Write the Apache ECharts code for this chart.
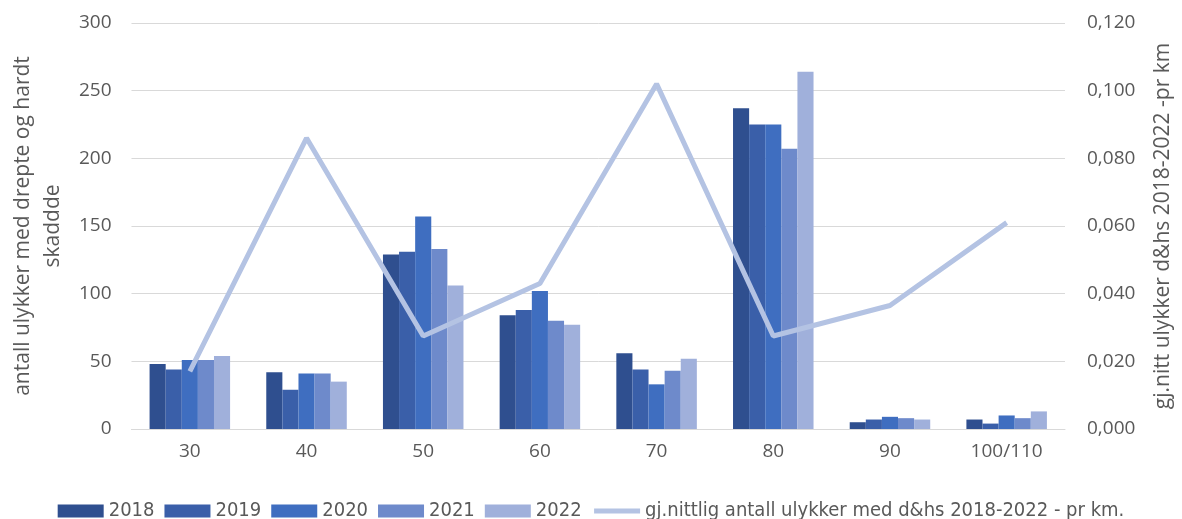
<!DOCTYPE html>
<html>
<head>
<meta charset="utf-8">
<script src="https://cdn.jsdelivr.net/npm/echarts@6/dist/echarts.min.js"></script>
<style>html,body{margin:0;padding:0;background:#fff;}#c{width:1182px;height:519px;}</style>
</head>
<body>
<div id="c"></div>
<script>
const categories = ['30','40','50','60','70','80','90','100/110'];
const y2018 = [48, 42, 129, 84, 56, 237, 5, 7];
const y2019 = [44, 29, 131, 88, 44, 225, 7, 4];
const y2020 = [51, 41, 157, 102, 33, 225, 9, 10];
const y2021 = [51, 41, 133, 80, 43, 207, 8, 8];
const y2022 = [54, 35, 106, 77, 52, 264, 7, 13];
const avgPerKm = [0.017, 0.086, 0.0275, 0.043, 0.102, 0.0275, 0.0365, 0.061];
const leftTicks = {min: 0, max: 300, interval: 50};
const rightTicks = {min: 0, max: 0.12, interval: 0.02};

const txt = '#595959';
const font = '"Open Sans", "DejaVu Sans", sans-serif';
const barColors = ['#2F4F8F', '#3A5FA9', '#3F6EC0', '#6E8ACB', '#A0B0DB'];
const lineName = 'gj.nittlig antall ulykker med d&hs 2018-2022 - pr km.';
const years = ['2018','2019','2020','2021','2022'];
const yearData = [y2018, y2019, y2020, y2021, y2022];

const series = years.map((y, i) => ({
  name: y, type: 'bar', data: yearData[i], yAxisIndex: 0,
  barGap: '0%', barCategoryGap: '31%',
  itemStyle: {color: barColors[i]}
}));
series.push({
  name: lineName,
  type: 'line', yAxisIndex: 1, data: avgPerKm,
  symbol: 'none', z: 5,
  lineStyle: {color: '#B4C3E3', width: 5},
  itemStyle: {color: '#B4C3E3'}
});

const chart = echarts.init(document.getElementById('c'), null, {renderer: 'canvas'});
chart.setOption({
  animation: false,
  backgroundColor: '#fff',
  grid: {left: 128, right: 112, top: 23, bottom: 90},
  legend: {
    top: 496, left: 'center',
    itemWidth: 46, itemHeight: 13, itemGap: 10,
    textStyle: {color: txt, fontSize: 20, fontFamily: '"Liberation Sans Narrow", "DejaVu Sans Condensed", sans-serif'},
    data: years.map(y => ({name: y, icon: 'rect'})).concat([{
      name: lineName,
      itemStyle: {color: 'rgba(0,0,0,0)', borderWidth: 0},
      lineStyle: {color: '#B4C3E3', width: 5}
    }])
  },
  xAxis: {
    type: 'category', data: categories,
    axisLine: {lineStyle: {color: '#D9D9D9', width: 1}},
    axisTick: {show: false},
    axisLabel: {color: txt, fontSize: 19, fontFamily: font, margin: 13}
  },
  yAxis: [{
    type: 'value', min: leftTicks.min, max: leftTicks.max, interval: leftTicks.interval,
    name: 'antall ulykker med drepte og hardt\nskaddde',
    nameLocation: 'middle', nameRotate: 90, nameGap: 59,
    nameTextStyle: {color: txt, fontSize: 21, fontFamily: font, lineHeight: 30},
    axisLine: {show: false}, axisTick: {show: false},
    axisLabel: {color: txt, fontSize: 19, fontFamily: font, margin: 20},
    splitLine: {lineStyle: {color: '#D9D9D9', width: 1}}
  }, {
    type: 'value', position: 'right', min: rightTicks.min, max: rightTicks.max, interval: rightTicks.interval,
    name: 'gj.nitt ulykker d&hs 2018-2022 -pr km',
    nameLocation: 'middle', nameRotate: 90, nameGap: 88,
    nameTextStyle: {color: txt, fontSize: 21, fontFamily: font},
    axisLine: {show: false}, axisTick: {show: false},
    axisLabel: {color: txt, fontSize: 19, fontFamily: font, margin: 22,
      formatter: v => v.toFixed(3).replace('.', ',')},
    splitLine: {show: false}
  }],
  series: series
});
</script>
</body>
</html>
